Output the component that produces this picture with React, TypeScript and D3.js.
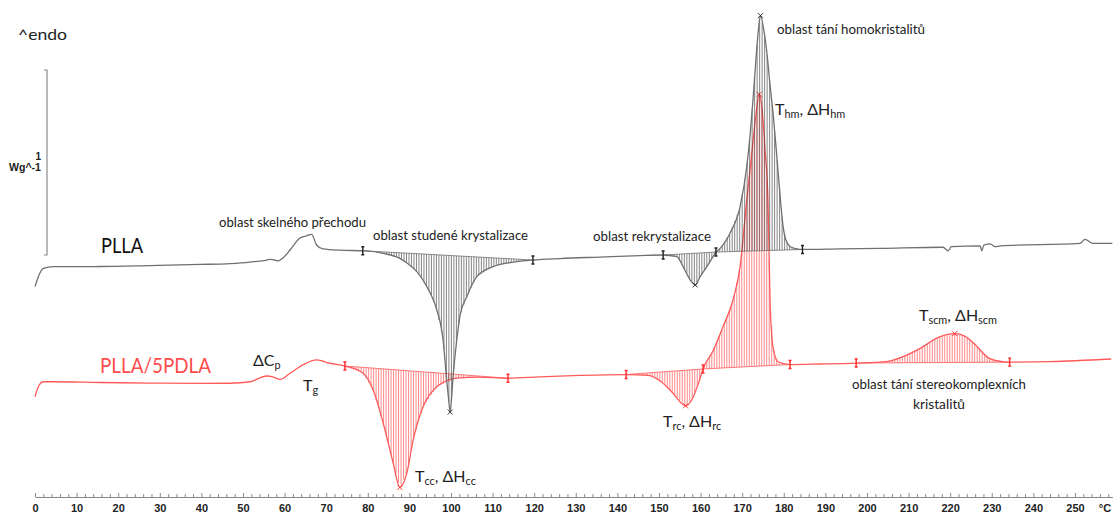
import React, { useEffect, useRef } from 'react';
import * as d3 from 'd3';

// temperature (°C) and heat flow (W/g, arbitrary offset)
const pllaTemp = [0, 0.8, 2.0, 4.4, 15.6, 27.6, 39.7, 46.9, 51.7, 55.7, 56.5, 57.7, 58.4, 59.6, 61.3, 63.7, 65.3, 66.5, 67.7, 69.2, 73.3, 78.8, 79.7, 83.7, 87.7, 89.4, 91.8, 94.2, 95.0, 96.6, 98.1, 98.9, 99.4, 99.8, 100.1, 100.5, 101.4, 102.2, 103.8, 106.2, 110.1, 115.8, 119.7, 126.2, 135.8, 145.4, 151.0, 154.3, 155.8, 157.5, 158.7, 159.9, 161.5, 163.0, 163.7, 164.7, 167.1, 169.5, 171.1, 171.9, 172.6, 173.3, 173.9, 174.4, 175.2, 176.0, 176.7, 177.5, 178.4, 179.1, 179.8, 180.5, 181.5, 182.9, 184.5, 193.5, 203.1, 218.3, 219.5, 220.3, 227.2, 227.6, 228.1, 229.6, 230.8, 232.0, 251.2, 252.4, 254.3, 259.0];
const pllaHF = [1.137, 1.191, 1.236, 1.245, 1.246, 1.251, 1.257, 1.262, 1.270, 1.281, 1.285, 1.281, 1.276, 1.292, 1.335, 1.400, 1.412, 1.420, 1.362, 1.341, 1.334, 1.331, 1.330, 1.317, 1.290, 1.265, 1.218, 1.137, 1.103, 1.011, 0.849, 0.649, 0.535, 0.459, 0.524, 0.649, 0.849, 0.984, 1.083, 1.191, 1.245, 1.272, 1.281, 1.289, 1.297, 1.305, 1.308, 1.299, 1.245, 1.173, 1.146, 1.191, 1.245, 1.299, 1.324, 1.344, 1.427, 1.569, 1.785, 1.957, 2.146, 2.362, 2.524, 2.602, 2.524, 2.389, 2.227, 2.056, 1.822, 1.632, 1.470, 1.389, 1.354, 1.343, 1.338, 1.341, 1.344, 1.350, 1.331, 1.353, 1.357, 1.331, 1.362, 1.368, 1.353, 1.357, 1.371, 1.393, 1.371, 1.371];

const blendTemp = [0, 0.8, 2.0, 4.4, 15.6, 27.6, 39.7, 46.9, 51.7, 55.7, 57.2, 58.9, 61.3, 64.4, 67.7, 70.9, 74.5, 78.8, 81.3, 83.7, 86.1, 87.7, 89.4, 90.9, 93.3, 96.6, 101.4, 107.0, 113.7, 121.4, 131.0, 142.1, 147.4, 150.6, 153.1, 156.4, 158.0, 159.6, 160.6, 163.1, 165.4, 167.8, 169.5, 171.1, 172.4, 173.3, 174.1, 174.8, 175.5, 176.2, 176.7, 177.4, 178.6, 181.5, 188.7, 197.4, 204.7, 208.8, 212.9, 217.0, 221.1, 223.5, 226.0, 229.3, 232.5, 234.3, 244.0, 258.7];
const blendHF = [0.542, 0.596, 0.623, 0.623, 0.619, 0.616, 0.614, 0.615, 0.623, 0.654, 0.649, 0.636, 0.669, 0.714, 0.741, 0.723, 0.708, 0.670, 0.578, 0.400, 0.184, 0.052, 0.130, 0.308, 0.488, 0.596, 0.643, 0.648, 0.642, 0.649, 0.657, 0.662, 0.657, 0.622, 0.568, 0.493, 0.530, 0.622, 0.692, 0.795, 0.921, 1.065, 1.245, 1.605, 1.876, 2.065, 2.177, 2.092, 1.876, 1.605, 1.065, 0.812, 0.731, 0.716, 0.719, 0.724, 0.732, 0.760, 0.805, 0.861, 0.883, 0.870, 0.824, 0.751, 0.732, 0.729, 0.732, 0.746];

// integration limits (°C) and marked peaks
const pllaRegions = [[78.8, 119.7], [151.0, 163.7], [163.7, 184.5]];
const blendRegions = [[74.5, 113.7], [142.1, 160.6], [160.6, 181.5], [197.4, 234.3]];
const pllaPeaks = [99.8, 158.7, 174.4];
const blendPeaks = [87.7, 156.4, 174.1, 221.1];

const scaleBar = [1.308, 2.308]; // 1 W/g

const W = 1114, H = 515;
const font = "Lato, 'Open Sans', sans-serif";
const axisFont = "'Liberation Sans', Arial, sans-serif";
const grey = '#707070';
const red = '#ff5a5a';

const x = d3.scaleLinear().domain([0, 259]).range([35, 1112.4]);
const y = d3.scaleLinear().domain([0, 1]).range([497, 312]);

function valueAt(temps: number[], hf: number[], t: number) {
  const i = d3.bisectLeft(temps, t);
  if (i <= 0) return hf[0];
  if (i >= temps.length) return hf[hf.length - 1];
  const t0 = temps[i - 1], t1 = temps[i];
  return hf[i - 1] + (hf[i] - hf[i - 1]) * (t - t0) / (t1 - t0);
}

function Curve({ temps, hf, regions, peaks, color, hatch, mark }: any) {
  const pts = temps.map((t: number, i: number) => [x(t), y(hf[i])] as [number, number]);
  const hatchLines: any[] = [];
  regions.forEach(([a, b]: number[], r: number) => {
    const ca = valueAt(temps, hf, a), cb = valueAt(temps, hf, b);
    d3.range(a + 0.3, b, 0.6).forEach((t, k) => {
      const c = valueAt(temps, hf, t);
      const base = ca + (cb - ca) * (t - a) / (b - a);
      hatchLines.push(<line key={r + '-' + k} x1={x(t)} x2={x(t)} y1={y(base)} y2={y(c)} />);
    });
  });
  const bounds = Array.from(new Set(regions.flat())) as number[];
  return (
    <g>
      <g stroke={hatch} strokeWidth={0.7} opacity={0.85}>{hatchLines}</g>
      <g stroke={color} strokeWidth={0.8}>
        {regions.map(([a, b]: number[], r: number) => (
          <line key={r} x1={x(a)} x2={x(b)} y1={y(valueAt(temps, hf, a))} y2={y(valueAt(temps, hf, b))} />
        ))}
      </g>
      <path d={(d3.line().curve(d3.curveMonotoneX))(pts) || ''} fill="none" stroke={color} strokeWidth={1.3} />
      <g stroke={mark} strokeWidth={1.4} fill="none">
        {bounds.map((t) => {
          const px = x(t), py = y(valueAt(temps, hf, t));
          return <path key={t} d={`M${px - 1.5},${py - 4}H${px + 1.5}M${px},${py - 4}V${py + 4}M${px - 1.5},${py + 4}H${px + 1.5}`} />;
        })}
        {peaks.map((t: number) => {
          const px = x(t), py = y(valueAt(temps, hf, t));
          return <path key={'p' + t} strokeWidth={0.9} d={`M${px - 2.5},${py - 2.5}L${px + 2.5},${py + 2.5}M${px - 2.5},${py + 2.5}L${px + 2.5},${py - 2.5}`} />;
        })}
      </g>
    </g>
  );
}

function Sub({ x: tx, y: ty, parts, size = 16, color = '#222' }: any) {
  // parts alternate: normal text, subscript
  return (
    <text x={tx} y={ty} fontFamily={font} fontSize={size} fill={color}>
      {parts.map((p: string, i: number) => i % 2 === 0
        ? <tspan key={i} fontSize={size} dy={i === 0 ? 0 : -3}>{p}</tspan>
        : <tspan key={i} fontSize={size * 0.68} dy={3}>{p}</tspan>)}
    </text>
  );
}

export default function App() {
  const axisRef = useRef<SVGGElement>(null);

  useEffect(() => {
    const g = d3.select(axisRef.current);
    g.selectAll('*').remove();
    const axis = d3.axisBottom(x)
      .tickValues(d3.range(0, 259, 2))
      .tickSizeInner(-3)
      .tickSizeOuter(0)
      .tickPadding(7)
      .tickFormat((d: any) => (d % 10 === 0 ? String(d) : ''));
    g.call(axis as any);
    g.select('.domain').attr('stroke', '#8a8a8a');
    g.selectAll('.tick line').attr('stroke', '#8a8a8a')
      .attr('y2', (d: any) => (d % 10 === 0 ? -4 : -3));
    g.selectAll('.tick text')
      .attr('font-family', axisFont)
      .attr('font-weight', 'bold')
      .attr('font-size', 11)
      .attr('fill', '#222');
  }, []);

  const mid = y((scaleBar[0] + scaleBar[1]) / 2);

  return (
    <svg width={W} height={H} style={{ position: 'absolute', left: 0, top: 0, background: '#fff' }}>
      <rect width={W} height={H} fill="#fff" />

      {/* scale bar */}
      <path d={`M44,${y(scaleBar[1])}H47V${y(scaleBar[0])}H44`} fill="none" stroke="#8a8a8a" strokeWidth={1.2} />
      <text x={41} y={mid - 3} textAnchor="end" fontFamily={axisFont} fontWeight="bold" fontSize={10} fill="#222">1</text>
      <text x={41} y={mid + 8} textAnchor="end" fontFamily={axisFont} fontWeight="bold" fontSize={10} fill="#222" textLength={32} lengthAdjust="spacingAndGlyphs">Wg^-1</text>
      <text x={18} y={40} fontFamily={font} fontSize={16} fill="#222" textLength={49} lengthAdjust="spacingAndGlyphs">^endo</text>

      <Curve temps={blendTemp} hf={blendHF} regions={blendRegions} peaks={blendPeaks} color={red} hatch="#ff3b3b" mark="#ff2a2a" />
      <Curve temps={pllaTemp} hf={pllaHF} regions={pllaRegions} peaks={pllaPeaks} color={grey} hatch="#333" mark="#222" />

      <g ref={axisRef} transform="translate(0,497)" />
      <text x={1105} y={512} textAnchor="middle" fontFamily={axisFont} fontWeight="bold" fontSize={11} fill="#222">°C</text>

      {/* labels */}
      <text x={101} y={253} fontFamily={font} fontSize={21} fill="#111" textLength={42} lengthAdjust="spacingAndGlyphs">PLLA</text>
      <text x={100} y={373} fontFamily={font} fontSize={21} fill="#ff4d4d" textLength={111} lengthAdjust="spacingAndGlyphs">PLLA/5PDLA</text>
      <text x={219} y={227} fontFamily={font} fontSize={13} fill="#222" textLength={147} lengthAdjust="spacingAndGlyphs">oblast skelného přechodu</text>
      <text x={373} y={240} fontFamily={font} fontSize={13} fill="#222" textLength={155} lengthAdjust="spacingAndGlyphs">oblast studené krystalizace</text>
      <text x={593} y={241} fontFamily={font} fontSize={13} fill="#222" textLength={118} lengthAdjust="spacingAndGlyphs">oblast rekrystalizace</text>
      <text x={777} y={34} fontFamily={font} fontSize={13} fill="#222" textLength={148} lengthAdjust="spacingAndGlyphs">oblast tání homokristalitů</text>
      <text x={852} y={389} fontFamily={font} fontSize={13} fill="#222" textLength={174} lengthAdjust="spacingAndGlyphs">oblast tání stereokomplexních</text>
      <text x={913} y={409} fontFamily={font} fontSize={13} fill="#222" textLength={52} lengthAdjust="spacingAndGlyphs">kristalitů</text>

      <Sub x={775} y={115} parts={['T', 'hm', ', ΔH', 'hm']} />
      <Sub x={919} y={321} parts={['T', 'scm', ', ΔH', 'scm']} />
      <Sub x={663} y={427} parts={['T', 'rc', ', ΔH', 'rc']} />
      <Sub x={415} y={482} parts={['T', 'cc', ', ΔH', 'cc']} />
      <Sub x={253} y={366} parts={['ΔC', 'p']} />
      <Sub x={303} y={391} parts={['T', 'g']} />
    </svg>
  );
}
